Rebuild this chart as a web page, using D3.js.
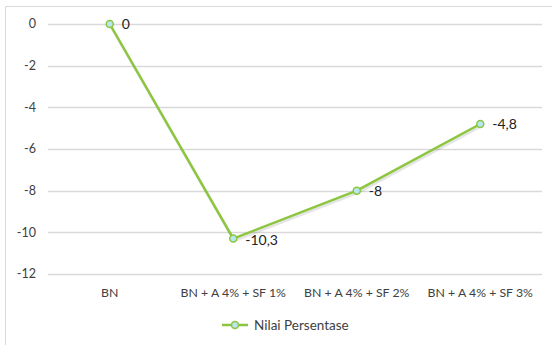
<!DOCTYPE html>
<html><head><meta charset="utf-8">
<script src="https://cdn.jsdelivr.net/npm/d3@7/dist/d3.min.js"></script>
<style>body{margin:0;background:#fff}svg{display:block}text{font-family:Lato,"Open Sans",sans-serif;fill:#404040}</style>
</head><body><svg id="c" width="552" height="345"></svg>
<script>
const categories = ["BN", "BN + A 4% + SF 1%", "BN + A 4% + SF 2%", "BN + A 4% + SF 3%"];
const values = [0, -10.3, -8, -4.8];
const labels = ["0", "-10,3", "-8", "-4,8"];
const yTicks = [0, -2, -4, -6, -8, -10, -12];
const seriesName = "Nilai Persentase";

const svg = d3.select("#c");
const W = 552, H = 345;
const color = "#8cc63e";
svg.append("path").attr("d", `M5.5,${H}V6.5H${W}`).attr("fill","none").attr("stroke","#d9d9d9");

const x = d3.scaleBand().domain(categories).range([48, 542]);
const y = d3.scaleLinear().domain([-12, 0]).range([274, 24]);

const g = svg.append("g");
g.selectAll(".grid").data(yTicks).join("line")
  .attr("x1", 48).attr("x2", 542)
  .attr("y1", d => Math.round(y(d)) + 0.5).attr("y2", d => Math.round(y(d)) + 0.5)
  .attr("stroke", "#d9d9d9").attr("stroke-width", 1.5);

g.selectAll(".yl").data(yTicks).join("text")
  .attr("x", 36).attr("y", d => y(d)).attr("dy", "0.35em")
  .attr("text-anchor", "end").attr("font-size", 12.5).text(d => d);

g.selectAll(".xl").data(categories).join("text")
  .attr("x", d => x(d) + x.bandwidth()/2).attr("y", 297)
  .attr("text-anchor", "middle").attr("font-size", 12.3).text(d => d);

const pts = categories.map((c, i) => [x(c) + x.bandwidth()/2, y(values[i])]);
const line = d3.line();
g.append("path").attr("d", line(pts.map(p => [p[0]+1, p[1]+2]))).attr("fill","none")
  .attr("stroke","#000").attr("stroke-opacity",0.1).attr("stroke-width",3);
g.append("path").attr("d", line(pts)).attr("fill","none")
  .attr("stroke", color).attr("stroke-width", 2.5).attr("stroke-linejoin","round");
g.selectAll(".pt").data(pts).join("circle")
  .attr("cx", d => d[0]).attr("cy", d => d[1]).attr("r", 3.5)
  .attr("fill", "#b9e6f2").attr("stroke", color).attr("stroke-width", 1.5);
g.selectAll(".dl").data(pts).join("text")
  .attr("x", d => d[0] + 12).attr("y", (d, i) => d[1] + (i === 1 ? 2 : 0)).attr("dy", "0.35em")
  .attr("font-size", 14).style("fill","#222").text((d, i) => labels[i]);

const lg = svg.append("g");
lg.append("line").attr("x1", 222).attr("x2", 248).attr("y1", 325).attr("y2", 325)
  .attr("stroke", color).attr("stroke-width", 2.5);
lg.append("circle").attr("cx", 235).attr("cy", 325).attr("r", 3.5)
  .attr("fill", "#b9e6f2").attr("stroke", color).attr("stroke-width", 1.5);
lg.append("text").attr("x", 254).attr("y", 325).attr("dy", "0.35em").attr("font-size", 13.5).text(seriesName);
</script></body></html>
